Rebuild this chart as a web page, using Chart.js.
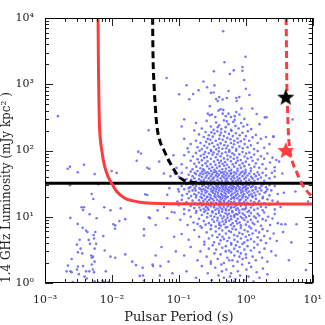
<!DOCTYPE html>
<html>
<head>
<meta charset="utf-8">
<script src="https://cdn.jsdelivr.net/npm/chart.js@4"></script>
<style>
  html, body { margin: 0; padding: 0; background: #fff; }
  #wrap { width: 325px; height: 325px; }
</style>
</head>
<body>
<div id="wrap"><canvas id="chart" width="325" height="325"></canvas></div>
<script>
const xTicks = [0.001, 0.01, 0.1, 1, 10];
const xTickLabels = ['10⁻³', '10⁻²', '10⁻¹', '10⁰', '10¹'];
const yTicks = [1, 10, 100, 1000, 10000];
const yTickLabels = ['10⁰', '10¹', '10²', '10³', '10⁴'];

// [period (s), luminosity (mJy kpc^2)]
const pulsarsBright = [[0.458,6300],[0.99,2600],[0.48,2150],[0.333,1570],[0.66,1620],[0.89,1820],[0.89,1600],[0.577,1430],[0.0655,1240],[0.944,1160],[0.233,1100],[0.13,964],[0.34,960],[0.197,810],[0.264,900],[0.163,713],[0.552,790],[1.0,857],[0.101,706],[0.30,740],[0.33,750],[1.13,690],[0.143,593],[0.36,600],[0.40,640],[0.38,560],[0.45,590],[0.52,620],[0.72,620],[0.8,640],[0.73,560],[0.29,465],[0.42,420],[0.46,410],[0.39,400],[0.86,430],[1.25,430],[0.27,360],[0.29,340],[0.31,350],[0.12,295],[0.35,320],[0.45,360],[0.5,330],[0.55,360],[0.6,320],[0.68,330],[0.72,380],[0.8,350],[0.95,300],[1.45,356],[2.04,318],[5.0,294],[1.92,316],[2.56,162],
[0.18,260],[0.22,215],[0.26,280],[0.3,230],[0.33,205],[0.36,265],[0.4,240],[0.43,210],[0.47,285],[0.5,225],[0.55,250],[0.6,205],[0.65,270],[0.7,235],[0.78,215],[0.85,260],[0.92,230],[1.05,245],[1.2,210],[1.6,250],[0.52,275],[0.38,225],[0.68,290],[0.11,230]];

const pulsarsMid = [[0.12,150],[0.135,108],[0.15,125],[0.17,200],[0.18,140],[0.19,112],[0.2,175],[0.21,130],[0.22,105],[0.235,160],[0.24,118],[0.25,190],[0.255,135],[0.265,110],[0.27,150],[0.28,170],[0.285,125],[0.3,102],[0.295,145],[0.305,188],[0.315,130],[0.32,162],[0.335,115],[0.34,180],[0.355,140],[0.36,104],[0.375,195],[0.38,122],[0.4,150],[0.395,110],[0.41,170],[0.42,128],[0.425,185],[0.445,106],[0.45,145],[0.47,165],[0.475,120],[0.5,135],[0.49,192],[0.51,108],[0.53,155],[0.535,118],[0.56,178],[0.565,102],[0.6,130],[0.59,148],[0.61,198],[0.63,112],[0.64,165],[0.67,140],[0.665,124],[0.71,182],[0.72,105],[0.75,152],[0.76,132],[0.8,115],[0.81,170],[0.84,138],[0.89,185],[0.9,108],[0.95,148],[0.96,125],[1.0,165],[1.06,112],[1.07,195],[1.12,140],[1.19,120],[1.26,158],[1.33,105],[1.41,172],[1.5,130],[1.68,150],[1.88,110],[2.0,160],[2.25,125],[2.6,162],
[0.11,62],[0.12,85],[0.13,55],[0.14,95],[0.15,70],[0.16,52],[0.162,81],[0.17,63],[0.18,92],[0.182,57],[0.19,74],[0.2,66],[0.203,99],[0.21,54],[0.212,83],[0.22,71],[0.223,60],[0.235,88],[0.232,52],[0.238,77],[0.25,64],[0.247,95],[0.265,58],[0.262,80],[0.268,69],[0.28,91],[0.284,53],[0.3,75],[0.297,62],[0.303,98],[0.315,56],[0.318,86],[0.335,68],[0.33,93],[0.34,51],[0.355,79],[0.352,61],[0.375,88],[0.37,55],[0.38,72],[0.4,65],[0.395,97],[0.405,58],[0.42,82],[0.425,70],[0.445,52],[0.44,90],[0.45,63],[0.47,76],[0.475,59],[0.5,94],[0.49,67],[0.505,53],[0.53,84],[0.525,61],[0.535,73],[0.56,56],[0.565,96],[0.6,69],[0.59,80],[0.605,51],[0.63,91],[0.635,62],[0.67,57],[0.66,75],[0.675,86],[0.71,65],[0.715,99],[0.75,53],[0.745,78],[0.755,70],[0.8,88],[0.805,60],[0.84,72],[0.845,55],[0.89,95],[0.895,64],[0.95,58],[0.955,81],[1.0,68],[0.99,51],[1.01,90],[1.06,76],[1.12,61],[1.13,93],[1.19,54],[1.2,79],[1.26,70],[1.33,87],[1.34,57],[1.41,64],[1.5,98],[1.51,73],[1.58,55],[1.68,82],[1.78,62],[1.88,75],[2.0,53],[2.1,90],[2.3,66],[2.5,78],[2.7,56],[2.85,72],[3.14,68]];

const pulsarsCore = [[0.1,40],[0.11,46],[0.12,34],[0.13,37],[0.14,43],[0.15,48],[0.152,36],[0.16,41],[0.17,38],[0.172,46],[0.18,44],[0.182,34],[0.19,49],[0.2,37],[0.202,42],[0.21,45],[0.212,35],[0.22,40],[0.222,48],[0.235,36],[0.232,44],[0.238,50],[0.25,39],[0.252,46],[0.265,34],[0.262,42],[0.268,47],[0.28,38],[0.283,45],[0.3,41],[0.297,35],[0.303,49],[0.315,44],[0.318,37],[0.335,47],[0.332,39],[0.338,34],[0.355,42],[0.358,48],[0.375,36],[0.372,45],[0.378,40],[0.4,33.5],[0.397,43],[0.403,49],[0.42,38],[0.424,46],[0.445,41],[0.44,35],[0.45,47],[0.47,44],[0.474,39],[0.5,36],[0.495,48],[0.505,42],[0.53,45],[0.525,38],[0.535,34],[0.56,41],[0.565,49],[0.6,37],[0.595,44],[0.605,46],[0.63,40],[0.635,35],[0.67,47],[0.665,42],[0.675,38],[0.71,34],[0.715,45],[0.75,49],[0.745,40],[0.755,36],[0.8,43],[0.805,38],[0.84,46],[0.845,35],[0.89,41],[0.895,48],[0.95,37],[0.955,44],[1.0,39],[0.99,47],[1.01,34],[1.06,42],[1.12,36],[1.13,45],[1.19,49],[1.2,40],[1.26,38],[1.33,44],[1.34,35],[1.41,41],[1.5,47],[1.51,37],[1.58,43],[1.68,39],[1.78,46],[1.88,35],[2.0,42],[2.25,38],[2.45,46],[2.7,40],[2.7,49],[3.5,45],
[0.1,24],[0.11,29],[0.112,21],[0.12,26],[0.13,31],[0.132,22],[0.14,27],[0.142,24],[0.15,32],[0.152,20.5],[0.148,28],[0.16,25],[0.162,30],[0.17,22],[0.172,27],[0.168,33],[0.18,29],[0.182,21],[0.178,25],[0.2,31],[0.197,23],[0.203,27],[0.21,20],[0.212,26],[0.208,32],[0.22,24],[0.223,29],[0.218,22],[0.235,30],[0.238,21],[0.232,26],[0.24,33],[0.25,23],[0.253,28],[0.247,25],[0.27,31],[0.267,20],[0.273,27],[0.265,24],[0.28,29],[0.284,22],[0.277,32],[0.3,26],[0.297,21],[0.303,30],[0.306,24],[0.32,28],[0.317,33],[0.323,23],[0.326,25],[0.34,20.5],[0.337,27],[0.343,31],[0.346,22],[0.36,29],[0.357,24],[0.363,26],[0.366,32],[0.38,21],[0.377,28],[0.383,23],[0.386,30],[0.4,25],[0.397,33],[0.403,20],[0.406,27],[0.43,31],[0.426,22],[0.434,29],[0.437,24],[0.45,26],[0.447,21],[0.453,32],[0.456,28],[0.48,23],[0.477,30],[0.483,25],[0.486,20.5],[0.5,27],[0.497,33],[0.503,22],[0.506,29],[0.53,24],[0.527,31],[0.533,20],[0.536,26],[0.56,28],[0.557,23],[0.563,32],[0.566,25],[0.6,21],[0.596,30],[0.604,27],[0.607,24],[0.63,33],[0.627,22],[0.634,29],[0.637,26],[0.67,20],[0.666,28],[0.674,31],[0.677,23],[0.71,25],[0.706,32],[0.714,21],[0.717,27],[0.75,30],[0.746,24],[0.754,22],[0.757,29],[0.8,26],[0.795,33],[0.805,20.5],[0.808,28],[0.85,23],[0.845,31],[0.855,25],[0.9,27],[0.895,21],[0.905,30],[0.908,24],[0.95,32],[0.945,22],[0.955,28],[1.0,25],[0.995,20],[1.005,29],[1.01,26],[1.06,31],[1.055,23],[1.065,27],[1.12,21],[1.115,30],[1.125,24],[1.2,28],[1.195,33],[1.205,22],[1.26,25],[1.255,20.5],[1.265,29],[1.33,31],[1.335,23],[1.4,26],[1.395,21],[1.405,28],[1.5,24],[1.505,32],[1.6,22],[1.605,27],[1.7,29],[1.705,25],[1.8,20],[1.805,31],[1.9,23],[2.0,28],[2.005,24],[2.1,26],[2.25,21],[2.255,30],[2.4,25],[2.7,29],[3.0,22],[3.7,23],[5.5,24],
[0.1,15],[0.11,18],[0.12,13],[0.13,16.5],[0.14,19],[0.142,12.5],[0.15,14.5],[0.16,17.5],[0.17,13.5],[0.172,16],[0.18,19.5],[0.182,12.2],[0.19,15.3],[0.2,17.8],[0.202,13.8],[0.21,16.2],[0.212,12.6],[0.22,19.2],[0.222,14.8],[0.235,13.2],[0.232,17.2],[0.238,15.6],[0.25,12.4],[0.247,18.4],[0.253,14.2],[0.265,16.8],[0.262,19.8],[0.268,13.6],[0.28,15.1],[0.277,12.8],[0.283,17.9],[0.3,14.4],[0.297,19.1],[0.303,16.4],[0.315,12.1],[0.312,15.8],[0.318,18.6],[0.335,13.9],[0.332,17.4],[0.338,14.9],[0.355,19.5],[0.352,12.7],[0.358,16.1],[0.375,15.4],[0.372,18.1],[0.378,13.3],[0.4,17.1],[0.397,12.3],[0.403,14.6],[0.406,19.7],[0.42,16.6],[0.417,13.7],[0.423,18.3],[0.445,12.9],[0.442,15.2],[0.448,19.3],[0.47,17.6],[0.467,14.1],[0.473,16.9],[0.5,13.1],[0.497,18.8],[0.503,15.5],[0.506,12.5],[0.53,16.3],[0.527,19.9],[0.533,14.3],[0.56,12.6],[0.557,17.3],[0.563,15.0],[0.6,18.5],[0.596,13.5],[0.604,16.7],[0.607,14.0],[0.63,19.4],[0.627,12.2],[0.634,15.7],[0.67,17.0],[0.666,13.9],[0.674,18.9],[0.71,14.7],[0.706,16.0],[0.714,12.8],[0.75,19.0],[0.746,15.3],[0.754,13.4],[0.8,17.7],[0.795,12.4],[0.805,16.5],[0.84,14.5],[0.845,18.2],[0.89,13.0],[0.885,15.9],[0.895,19.6],[0.95,16.8],[0.955,12.9],[1.0,18.0],[0.995,14.8],[1.005,13.6],[1.06,16.2],[1.065,19.2],[1.12,12.3],[1.125,15.4],[1.19,17.4],[1.195,13.8],[1.26,19.8],[1.265,14.9],[1.33,12.7],[1.335,16.6],[1.41,18.6],[1.5,13.3],[1.505,15.8],[1.58,17.2],[1.68,14.2],[1.78,19.0],[1.785,12.5],[1.88,16.0],[2.0,13.9],[2.1,18.3],[2.25,15.1],[2.5,17.5],[2.7,12.9],[3.0,16.8],[3.3,14.0],[8.5,17]];

const pulsarsFaint = [[0.105,9],[0.12,11],[0.135,7.5],[0.15,10],[0.165,8.2],[0.18,11.5],[0.19,7.8],[0.2,9.3],[0.21,7.2],[0.22,10.6],[0.235,8.6],[0.238,11.8],[0.25,7.6],[0.265,9.8],[0.268,11.2],[0.28,8.0],[0.3,10.3],[0.303,7.4],[0.315,9.1],[0.318,11.6],[0.335,8.4],[0.338,10.0],[0.355,7.1],[0.358,11.0],[0.375,8.8],[0.378,9.6],[0.4,7.6],[0.397,11.4],[0.403,8.1],[0.42,10.4],[0.423,7.3],[0.445,9.4],[0.442,11.9],[0.448,8.5],[0.47,10.1],[0.473,7.7],[0.5,9.0],[0.497,11.3],[0.503,8.3],[0.53,10.7],[0.527,7.0],[0.533,9.7],[0.56,11.1],[0.563,8.7],[0.6,10.2],[0.596,7.5],[0.604,9.2],[0.63,11.7],[0.634,8.0],[0.67,10.5],[0.666,7.2],[0.674,9.9],[0.71,11.0],[0.714,8.6],[0.75,10.8],[0.746,7.9],[0.754,9.3],[0.8,11.5],[0.805,8.2],[0.84,10.0],[0.845,7.4],[0.89,9.5],[0.895,11.2],[0.95,8.9],[0.955,10.6],[1.0,7.6],[1.005,9.8],[1.06,11.8],[1.065,8.4],[1.12,10.3],[1.125,7.1],[1.19,9.0],[1.195,11.4],[1.26,8.1],[1.33,10.1],[1.335,7.7],[1.41,9.6],[1.5,11.1],[1.505,8.5],[1.58,10.4],[1.68,7.3],[1.78,9.2],[1.88,11.6],[2.0,8.8],[2.15,10.0],[2.3,7.5],[2.5,9.4],[2.7,11.0],[3.0,8.0],[3.4,7.7],[3.9,7.7],[5.7,7.7],
[0.11,5.5],[0.14,4.5],[0.17,6.3],[0.2,5.0],[0.22,6.8],[0.24,4.2],[0.26,5.8],[0.28,4.7],[0.3,6.5],[0.315,5.2],[0.335,4.1],[0.355,6.0],[0.375,4.9],[0.4,6.7],[0.403,5.4],[0.42,4.4],[0.445,6.2],[0.448,5.0],[0.47,4.6],[0.5,6.9],[0.503,5.6],[0.53,4.3],[0.56,6.1],[0.563,4.8],[0.6,5.9],[0.604,4.0],[0.63,6.6],[0.67,5.3],[0.674,4.5],[0.71,6.4],[0.75,5.1],[0.754,4.2],[0.8,5.7],[0.84,6.8],[0.845,4.7],[0.89,5.5],[0.95,4.1],[0.955,6.3],[1.0,5.0],[1.06,4.4],[1.065,6.0],[1.12,5.3],[1.19,4.6],[1.195,6.7],[1.26,5.6],[1.33,4.2],[1.41,6.2],[1.5,4.9],[1.58,5.8],[1.68,4.4],[1.78,6.5],[1.88,5.1],[2.0,4.0],[2.1,6.1],[2.3,4.7],[2.6,5.6],[2.9,4.3],[3.6,5.9],[4.8,4.1],
[0.12,2.6],[0.15,3.5],[0.19,2.2],[0.21,3.0],[0.24,3.8],[0.26,2.5],[0.28,3.3],[0.3,2.1],[0.32,3.7],[0.34,2.8],[0.36,3.2],[0.38,2.3],[0.4,3.9],[0.42,2.7],[0.445,3.4],[0.47,2.0],[0.5,3.0],[0.503,3.6],[0.53,2.4],[0.56,3.1],[0.563,2.2],[0.6,2.9],[0.604,3.8],[0.63,2.2],[0.67,3.3],[0.674,2.6],[0.71,3.7],[0.75,2.1],[0.754,3.0],[0.8,2.5],[0.805,3.5],[0.84,2.8],[0.89,3.9],[0.895,2.3],[0.95,3.2],[1.0,2.7],[1.005,2.4],[1.06,3.6],[1.12,2.0],[1.19,3.1],[1.26,2.5],[1.33,3.4],[1.41,2.2],[1.5,3.8],[1.6,2.9],[1.75,2.4],[1.9,3.3],[2.1,2.1],[2.4,3.0],[2.8,2.6],[4.4,2.2],
[0.13,1.5],[0.18,1.2],[0.22,1.8],[0.27,1.4],[0.3,1.95],[0.31,1.1],[0.35,1.7],[0.39,1.3],[0.43,1.9],[0.44,1.5],[0.47,1.2],[0.51,1.6],[0.55,1.05],[0.58,1.25],[0.6,1.4],[0.65,1.8],[0.66,1.05],[0.7,1.15],[0.76,1.5],[0.82,1.3],[0.88,1.9],[0.95,1.1],[1.02,1.6],[1.1,1.25],[1.2,1.75],[1.3,1.05],[1.45,1.45],[1.6,1.2],[1.8,1.65],[2.1,1.35],[7.9,1.57]];

const pulsarsFast = [[0.00156,330],[0.0353,202],[0.0247,96],[0.0271,90],[0.0234,70],[0.0337,55],[0.036,53],[0.00218,53],[0.00236,57],[0.00308,47],[0.00382,61],[0.00552,44],[0.0099,49],[0.01175,46],[0.00236,30],[0.00625,31],[0.00498,22],[0.00526,18.5],[0.0314,21.8],[0.0337,21.3],
[0.00352,13.9],[0.00383,13.9],[0.0037,12.6],[0.00464,10.9],[0.0077,13.9],[0.0095,12.5],[0.0135,13.4],[0.00239,9.6],[0.0059,9.5],[0.0158,9.2],[0.0129,8.6],[0.00308,7.8],[0.0105,7.7],[0.0112,7.4],[0.0111,6.6],[0.00365,6.8],[0.0041,6.2],[0.0043,5.9],[0.00564,5.9],[0.0301,6.5],[0.0356,9.8],[0.00533,5.3],[0.0054,4.7],[0.0045,4.47],[0.0047,3.9],[0.00743,5.1],[0.0033,4.5],[0.003,3.8],[0.0034,3.3],[0.0031,2.9],[0.0058,3.9],[0.0055,3.3],[0.0036,2.8],[0.0049,2.6],[0.0052,2.5],[0.005,2.4],[0.0078,3.1],[0.0095,2.5],[0.0112,2.4],[0.0158,2.7],[0.0301,5.2],[0.0201,2.1],[0.0229,1.86],[0.0288,1.7],[0.029,1.3],[0.03,1.08],[0.0404,1.9],[0.0025,2.3],[0.0022,1.83],[0.0024,1.5],[0.0021,1.5],[0.0025,1.45],[0.0031,1.77],[0.003,1.6],[0.0032,1.36],[0.0037,1.8],[0.0039,1.25],[0.0041,1.5],[0.0046,1.5],[0.0052,1.6],[0.0054,1.45],[0.0055,2.1],[0.005,1.9],[0.0081,1.5],[0.0072,1.08],[0.0076,1.03],[0.0088,1.03],[0.0042,1.17],[0.0055,1.06],[0.0062,1.03],[0.0026,1.03],
[0.0508,68],[0.069,70],[0.0597,45],[0.075,41],[0.087,45],[0.098,26],[0.067,21.5],[0.078,11.8],[0.086,11.6],[0.067,9.5],[0.045,2.6],[0.041,1.8],[0.053,1.8],[0.052,1.3],[0.07,2.1],[0.026,1.28],[0.037,9.5],[0.055,3.5],[0.045,7.5],[0.06,14],[0.085,5],[0.095,17],[0.09,3],[0.08,1.4],[0.048,12.5],[0.072,27],[0.092,55],[0.083,85]];

// sensitivity curves
const redCurve = [[0.0062,10000],[0.0063,1500],[0.0064,500],[0.0065,250],[0.0067,150],[0.0070,105],[0.0077,60],[0.0088,40],[0.0100,31.5],[0.0118,24],[0.0156,19],[0.02,17.5],[0.026,16.6],[0.04,16],[0.07,15.7],[0.3,15.6],[10,15.6]];
const blackDashCurve = [[0.0405,10000],[0.041,3000],[0.0425,1000],[0.0445,450],[0.047,230],[0.052,140],[0.06,100],[0.07,72],[0.082,54],[0.1,40],[0.12,35.5],[0.17,33],[0.25,32.2]];
const redDashCurve = [[4.0,10000],[4.05,3000],[4.1,1000],[4.2,400],[4.3,200],[4.55,100],[5.0,66],[5.7,48],[6.8,32],[8.0,25],[9.6,20.5]];
const blackLimit = [[0.001,32],[10,32]];
const blackStar = [[3.95,650]];
const redStar = [[3.95,102]];

const RED = '#ff3b3b';
const pts = arr => arr.map(p => ({x: p[0], y: p[1]}));
const allPulsars = pulsarsBright.concat(pulsarsMid, pulsarsCore, pulsarsFaint, pulsarsFast);

function starImage(color, size) {
    const c = document.createElement('canvas');
    c.width = size; c.height = size;
    const g = c.getContext('2d');
    const r = size / 2, ri = r * 0.42;
    g.beginPath();
    for (let i = 0; i < 10; i++) {
        const ang = -Math.PI / 2 + i * Math.PI / 5;
        const rr = i % 2 ? ri : r;
        g.lineTo(r + rr * Math.cos(ang), r + rr * Math.sin(ang) + size * 0.06);
    }
    g.closePath();
    g.fillStyle = color;
    g.fill();
    return c;
}

// inward ticks on all four sides + frame
const frameTicks = {
    id: 'frameTicks',
    afterDatasetsDraw(chart) {
        const {ctx, chartArea: a, scales: {x, y}} = chart;
        ctx.save();
        ctx.strokeStyle = '#222';
        ctx.lineWidth = 1;
        ctx.beginPath();
        for (let e = -3; e <= 1; e++) {
            for (let m = 1; m <= 9; m++) {
                const v = m * Math.pow(10, e);
                if (v > 10.001) continue;
                const px = Math.round(x.getPixelForValue(v)) + 0.5;
                const len = m === 1 ? 8 : 4;
                ctx.moveTo(px, a.bottom); ctx.lineTo(px, a.bottom - len);
                ctx.moveTo(px, a.top); ctx.lineTo(px, a.top + len);
            }
        }
        for (let e = 0; e <= 4; e++) {
            for (let m = 1; m <= 9; m++) {
                const v = m * Math.pow(10, e);
                if (v > 10001) continue;
                const py = Math.round(y.getPixelForValue(v)) + 0.5;
                const len = m === 1 ? 8 : 4;
                ctx.moveTo(a.left, py); ctx.lineTo(a.left + len, py);
                ctx.moveTo(a.right, py); ctx.lineTo(a.right - len, py);
            }
        }
        ctx.stroke();
        ctx.strokeStyle = '#000';
        ctx.strokeRect(Math.round(a.left) + 0.5, Math.round(a.top) + 0.5, Math.round(a.right - a.left) - 1, Math.round(a.bottom - a.top) - 1);
        ctx.restore();
    }
};

const serif = "'DejaVu Serif', serif";

new Chart(document.getElementById('chart'), {
    type: 'scatter',
    data: {
        datasets: [
            {data: pts(blackStar), pointStyle: starImage('#000', 18), pointRadius: 9, order: 0},
            {data: pts(redStar), pointStyle: starImage(RED, 18), pointRadius: 9, order: 0},
            {data: pts(redDashCurve), showLine: true, borderColor: RED, borderWidth: 3, borderDash: [7, 4], pointRadius: 0, cubicInterpolationMode: 'monotone', order: 1},
            {data: pts(blackDashCurve), showLine: true, borderColor: '#000', borderWidth: 3, borderDash: [7, 4], pointRadius: 0, cubicInterpolationMode: 'monotone', order: 1},
            {data: pts(redCurve), showLine: true, borderColor: RED, borderWidth: 3, pointRadius: 0, cubicInterpolationMode: 'monotone', order: 2},
            {data: pts(blackLimit), showLine: true, borderColor: '#000', borderWidth: 3, pointRadius: 0, order: 2},
            {data: pts(allPulsars), pointRadius: 1.3, pointBorderWidth: 0, backgroundColor: 'rgba(95,95,255,0.85)', order: 5}
        ]
    },
    options: {
        responsive: false,
        animation: false,
        events: [],
        layout: {padding: {top: 18, right: 12, left: 0, bottom: 0}},
        plugins: {legend: {display: false}, tooltip: {enabled: false}},
        scales: {
            x: {
                type: 'logarithmic', min: 0.001, max: 10,
                afterBuildTicks: s => { s.ticks = xTicks.map(v => ({value: v})); },
                afterFit: s => { s.height = 42; },
                grid: {display: false},
                border: {display: false},
                ticks: {
                    autoSkip: false, maxRotation: 0, padding: 3,
                    color: '#222', font: {family: serif, size: 11},
                    callback: (v, i) => xTickLabels[i]
                },
                title: {display: true, text: 'Pulsar Period (s)', color: '#222', font: {family: serif, size: 13}, padding: {top: 0, bottom: 0}}
            },
            y: {
                type: 'logarithmic', min: 1, max: 10000,
                afterBuildTicks: s => { s.ticks = yTicks.map(v => ({value: v})); },
                afterFit: s => { s.width = 45; },
                grid: {display: false},
                border: {display: false},
                ticks: {
                    autoSkip: false, padding: 3,
                    color: '#222', font: {family: serif, size: 11},
                    callback: (v, i) => yTickLabels[i]
                },
                title: {display: true, align: 'start', text: '1.4 GHz Luminosity (mJy kpc² )', color: '#222', font: {family: serif, size: 12}, padding: {top: 0, bottom: 3}}
            }
        }
    },
    plugins: [frameTicks]
});
</script>
</body>
</html>
